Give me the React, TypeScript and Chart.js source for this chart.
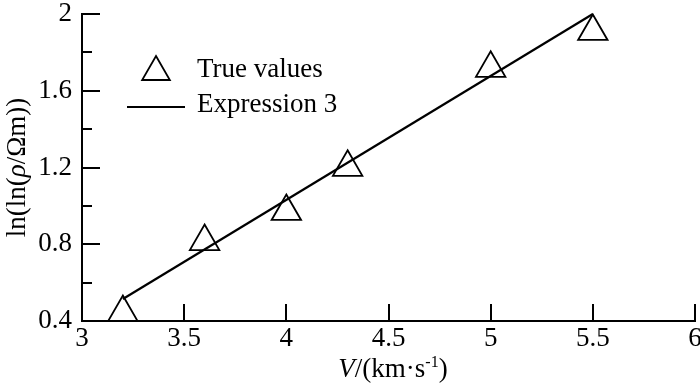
import React, { useEffect, useRef } from 'react';
import { Chart, registerables } from 'chart.js';

Chart.register(...registerables);

// ---- data ----
const velocity = [3.2, 3.6, 4.0, 4.3, 5.0, 5.5];
const trueValues = [0.444, 0.814, 0.971, 1.201, 1.717, 1.909];
const fitX = [3.2, 5.5];
const fitY = [0.515, 2.0];
const xTicks = [3, 3.5, 4, 4.5, 5, 5.5, 6];
const yMajorTicks = [0.4, 0.8, 1.2, 1.6, 2];
const yMinorTicks = [0.6, 1.0, 1.4, 1.8];
const legendLabels = ['True values', 'Expression 3'];

const FONT = '"Liberation Serif", "Times New Roman", serif';

const isMajorY = (v: number) => yMajorTicks.some((m) => Math.abs(m - v) < 1e-6);

type Seg = { t: string; italic?: boolean; sup?: boolean };

function drawSegments(ctx: CanvasRenderingContext2D, segs: Seg[], cx: number, baseY: number, size: number) {
  const supSize = Math.round(size * 0.58);
  const fontOf = (s: Seg) => `${s.italic ? 'italic ' : ''}${s.sup ? supSize : size}px ${FONT}`;
  let total = 0;
  const widths = segs.map((s) => {
    ctx.font = fontOf(s);
    const w = ctx.measureText(s.t).width;
    total += w;
    return w;
  });
  let x = cx - total / 2;
  ctx.textAlign = 'left';
  ctx.textBaseline = 'alphabetic';
  segs.forEach((s, i) => {
    ctx.font = fontOf(s);
    ctx.fillText(s.t, x, s.sup ? baseY - size * 0.38 : baseY);
    x += widths[i];
  });
}

const decorPlugin = {
  id: 'decor',
  afterDraw(chart: any) {
    const { ctx, chartArea, scales } = chart;
    const xs = scales.x;
    const ys = scales.y;
    ctx.save();
    ctx.strokeStyle = '#000';
    ctx.fillStyle = '#000';
    ctx.lineWidth = 2;
    // inward tick marks
    ys.ticks.forEach((t: any) => {
      const py = Math.round(ys.getPixelForValue(t.value));
      const len = isMajorY(t.value) ? 18 : 10;
      ctx.beginPath();
      ctx.moveTo(chartArea.left, py);
      ctx.lineTo(chartArea.left + len, py);
      ctx.stroke();
    });
    xs.ticks.forEach((t: any) => {
      const px = Math.round(xs.getPixelForValue(t.value));
      ctx.beginPath();
      ctx.moveTo(px, chartArea.bottom);
      ctx.lineTo(px, chartArea.bottom - 17);
      ctx.stroke();
    });

    // axis titles
    drawSegments(
      ctx,
      [{ t: 'V', italic: true }, { t: '/(km·s' }, { t: '-1', sup: true }, { t: ')' }],
      393,
      377,
      27
    );
    ctx.save();
    ctx.translate(25, (chartArea.top + chartArea.bottom) / 2);
    ctx.rotate(-Math.PI / 2);
    drawSegments(ctx, [{ t: 'ln(ln(' }, { t: 'ρ', italic: true }, { t: '/Ωm))' }], 0, 0, 27);
    ctx.restore();

    // legend
    const r = 16;
    const tx = 156;
    const ty = 72;
    ctx.lineWidth = 1.8;
    ctx.beginPath();
    ctx.moveTo(tx, ty - r);
    ctx.lineTo(tx + Math.sin((2 * Math.PI) / 3) * r, ty + r / 2);
    ctx.lineTo(tx - Math.sin((2 * Math.PI) / 3) * r, ty + r / 2);
    ctx.closePath();
    ctx.stroke();
    ctx.lineWidth = 2;
    ctx.beginPath();
    ctx.moveTo(127, 107);
    ctx.lineTo(185, 107);
    ctx.stroke();
    ctx.font = `27px ${FONT}`;
    ctx.textAlign = 'left';
    ctx.textBaseline = 'alphabetic';
    ctx.fillText(legendLabels[0], 197, 77);
    ctx.fillText(legendLabels[1], 197, 112);
    ctx.restore();
  },
};

export default function App() {
  const ref = useRef<HTMLCanvasElement>(null);
  useEffect(() => {
    if (!ref.current) return;
    const chart = new Chart(ref.current, {
      type: 'scatter',
      data: {
        datasets: [
          {
            type: 'scatter',
            label: legendLabels[0],
            data: velocity.map((x, i) => ({ x, y: trueValues[i] })),
            pointStyle: 'triangle',
            pointRadius: 17,
            pointHoverRadius: 17,
            pointBorderWidth: 1.8,
            borderColor: '#000',
            backgroundColor: 'rgba(0,0,0,0)',
            clip: false,
          } as any,
          {
            type: 'line',
            label: legendLabels[1],
            data: fitX.map((x, i) => ({ x, y: fitY[i] })),
            borderColor: '#000',
            borderWidth: 2.2,
            pointRadius: 0,
            fill: false,
            clip: false,
          } as any,
        ],
      },
      options: {
        animation: false,
        responsive: false,
        devicePixelRatio: 1,
        layout: { autoPadding: false, padding: { left: 0, right: 5, top: 14, bottom: 0 } },
        plugins: { legend: { display: false }, tooltip: { enabled: false } },
        scales: {
          x: {
            type: 'linear',
            min: 3,
            max: 6,
            afterBuildTicks: (s: any) => {
              s.ticks = xTicks.map((v) => ({ value: v }));
            },
            afterFit: (s: any) => {
              s.height = 66;
              s.paddingLeft = 0;
              s.paddingRight = 0;
              s.paddingTop = 0;
              s.paddingBottom = 0;
            },
            grid: { display: false, drawTicks: false },
            border: { display: true, color: '#000', width: 2 },
            ticks: {
              color: '#000',
              padding: 2,
              maxRotation: 0,
              font: { family: FONT, size: 27 },
              callback: (v: any) => String(Number(Number(v).toFixed(1))),
            },
          },
          y: {
            type: 'linear',
            min: 0.4,
            max: 2,
            afterBuildTicks: (s: any) => {
              s.ticks = [...yMajorTicks, ...yMinorTicks].sort((a, b) => a - b).map((v) => ({ value: v }));
            },
            afterFit: (s: any) => {
              s.width = 82;
              s.paddingLeft = 0;
              s.paddingRight = 0;
              s.paddingTop = 0;
              s.paddingBottom = 0;
            },
            grid: { display: false, drawTicks: false },
            border: { display: true, color: '#000', width: 2 },
            ticks: {
              color: '#000',
              padding: 10,
              autoSkip: false,
              font: { family: FONT, size: 27 },
              callback: (v: any) => (isMajorY(Number(v)) ? String(Number(Number(v).toFixed(1))) : ''),
            },
          },
        },
      },
      plugins: [decorPlugin],
    });
    return () => chart.destroy();
  }, []);
  return (
    <div style={{ position: 'absolute', left: 0, top: 0, width: 700, height: 387, background: '#fff' }}>
      <canvas ref={ref} width={700} height={387} style={{ display: 'block', width: 700, height: 387 }} />
    </div>
  );
}
